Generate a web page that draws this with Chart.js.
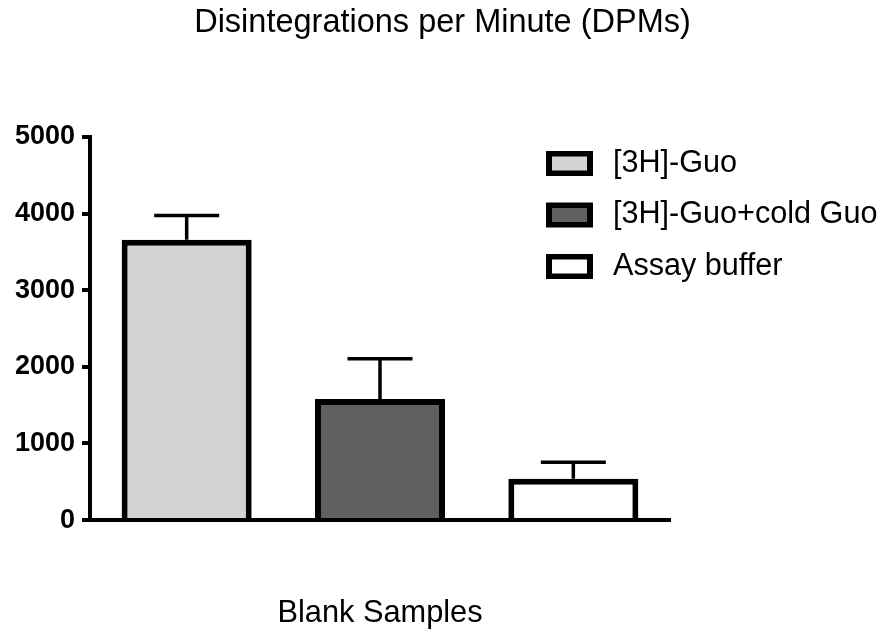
<!DOCTYPE html>
<html>
<head>
<meta charset="utf-8">
<title>Disintegrations per Minute</title>
<script src="https://cdn.jsdelivr.net/npm/chart.js@4.4.1/dist/chart.umd.min.js"></script>
<style>
  html, body { margin: 0; padding: 0; background: #fff; }
</style>
</head>
<body>
<canvas id="dpmChart" width="885" height="630"></canvas>
<script>
const categories = ['Blank Samples'];
const seriesLabels = ['[3H]-Guo', '[3H]-Guo+cold Guo', 'Assay buffer'];
const meanDpm = [3660, 1580, 540];
const errDpm = [315, 525, 215];
const yTicks = [0, 1000, 2000, 3000, 4000, 5000];

const fills = ['#d3d3d3', '#606060', '#ffffff'];

Chart.defaults.font.family = '"Liberation Sans", Arial, sans-serif';
Chart.defaults.color = '#000';

// upper error bar with a cap, one per bar
const errorBars = {
    id: 'errorBars',
    afterDatasetsDraw(chart) {
        const ctx = chart.ctx;
        const y = chart.scales.y;
        ctx.save();
        ctx.strokeStyle = '#000';
        ctx.lineWidth = 3.5;
        chart.data.datasets.forEach((ds, i) => {
            const bar = chart.getDatasetMeta(i).data[0];
            const top = y.getPixelForValue(ds.data[0] + ds.errorBar[0]);
            const half = bar.width / 4;
            ctx.beginPath();
            ctx.moveTo(bar.x, bar.y);
            ctx.lineTo(bar.x, top);
            ctx.moveTo(bar.x - half, top);
            ctx.lineTo(bar.x + half, top);
            ctx.stroke();
        });
        ctx.restore();
    }
};

// legend boxes with thick black frames, top right
const sideLegend = {
    id: 'sideLegend',
    afterDraw(chart) {
        const ctx = chart.ctx;
        ctx.save();
        ctx.font = '30.6px "Liberation Sans", Arial, sans-serif';
        ctx.textBaseline = 'middle';
        chart.data.datasets.forEach((ds, i) => {
            const top = 151 + i * 51.5;
            ctx.fillStyle = '#000';
            ctx.fillRect(546, top, 47, 25);
            ctx.fillStyle = ds.backgroundColor;
            ctx.fillRect(552, top + 5.5, 35, 14);
            ctx.fillStyle = '#000';
            ctx.fillText(ds.label, 613, top + 12.5);
        });
        ctx.restore();
    }
};

const datasets = seriesLabels.map((label, i) => ({
    label: label,
    data: [meanDpm[i]],
    errorBar: [errDpm[i]],
    backgroundColor: fills[i],
    borderColor: '#000',
    borderWidth: 6,
    borderSkipped: 'start',
    barPercentage: 0.6725,
    categoryPercentage: 1.0
}));

const config = {
    type: 'bar',
    data: {
        labels: categories,
        datasets: datasets
    },
    options: {
        responsive: false,
        animation: false,
        layout: { padding: 0 },
        plugins: {
            legend: { display: false },
            tooltip: { enabled: false },
            title: {
                display: true,
                text: 'Disintegrations per Minute (DPMs)',
                font: { size: 32.5, weight: 'normal' },
                color: '#000',
                padding: { top: 4, bottom: 94 }
            }
        },
        scales: {
            x: {
                z: 1,
                grid: { display: false, drawTicks: false },
                border: { display: true, color: '#000', width: 4 },
                ticks: { display: false },
                title: {
                    display: true,
                    text: categories[0],
                    font: { size: 30.75 },
                    color: '#000',
                    padding: { top: 75, bottom: -2 }
                }
            },
            y: {
                min: 0,
                max: 5000,
                afterBuildTicks: (scale) => {
                    scale.ticks = yTicks.map(v => ({ value: v }));
                },
                afterFit: (scale) => { scale.width = 90; },
                grid: {
                    display: true,
                    drawOnChartArea: false,
                    drawTicks: true,
                    tickLength: 8,
                    lineWidth: 4,
                    color: '#000'
                },
                border: { display: true, color: '#000', width: 4 },
                ticks: {
                    padding: 7,
                    font: { size: 27, weight: 'bold' },
                    color: '#000',
                    callback: (v) => String(v)
                }
            },
            // empty space on the right where the legend sits
            pad: {
                type: 'linear',
                position: 'right',
                display: true,
                grid: { display: false, drawTicks: false },
                border: { display: false },
                ticks: { display: false },
                afterFit: (scale) => { scale.width = 215; }
            }
        }
    },
    plugins: [errorBars, sideLegend]
};

const dpmChart = new Chart(document.getElementById('dpmChart'), config);
</script>
</body>
</html>
